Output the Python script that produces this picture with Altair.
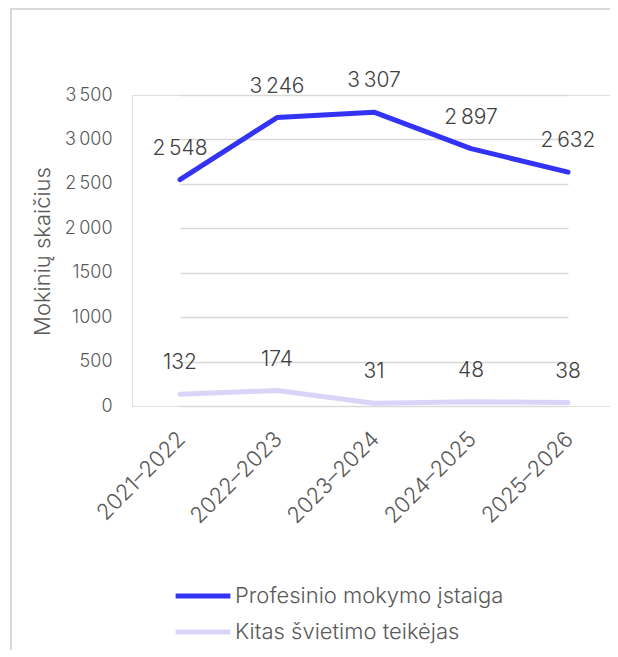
import altair as alt
import pandas as pd

years = ["2021–2022", "2022–2023", "2023–2024", "2024–2025", "2025–2026"]
series_names = ["Profesinio mokymo įstaiga", "Kitas švietimo teikėjas"]
profesinio = [2548, 3246, 3307, 2897, 2632]
kitas = [132, 174, 31, 48, 38]
colors = ["#3333F5", "#D9D5F8"]
y_ticks = [0, 500, 1000, 1500, 2000, 2500, 3000, 3500]

rows = []
for name, vals in zip(series_names, [profesinio, kitas]):
    for yr, v in zip(years, vals):
        rows.append({"Metai": yr, "Serija": name, "Reikšmė": v})
df = pd.DataFrame(rows)

FONT = "Inter"
W, H = 478, 311
PAD = {"left": 124, "top": 87, "right": 0, "bottom": 244}

x_enc = alt.X(
    "Metai:N", sort=years,
    scale=alt.Scale(type="point", range=[48, 436], padding=0),
    axis=alt.Axis(title=None, labelAngle=-45, labelFontSize=22, labelColor="#595959",
                  labelFont=FONT, labelFontWeight=300, ticks=False, domain=False, grid=False,
                  labelPadding=22, labelOffset=-6),
)
y_enc = alt.Y(
    "Reikšmė:Q",
    scale=alt.Scale(domain=[0, 3500], nice=False),
    axis=alt.Axis(
        title="Mokinių skaičius", values=y_ticks, format="d",
        labelExpr="datum.value >= 2000 ? replace(format(datum.value, ','), ',', '\u2009') : format(datum.value, 'd')",
        labelFontSize=18, labelColor="#595959", labelFont=FONT, labelFontWeight=300, labelPadding=20,
        ticks=False, domain=False, gridColor="#D9D9D9", gridWidth=1.5,
        titleFont=FONT, titleFontSize=22, titleFontWeight=300, titleColor="#595959",
        titleX=-90, titleY=156, titleAngle=-90, titleAlign="center", titleBaseline="middle",
    ),
)
color_enc = alt.Color(
    "Serija:N", sort=series_names,
    scale=alt.Scale(domain=series_names, range=colors),
    legend=alt.Legend(
        title=None, orient="none", legendX=41, legendY=486, direction="vertical",
        symbolType="stroke", symbolSize=3000, symbolStrokeWidth=5, labelFont=FONT,
        labelFontWeight=300, labelFontSize=22, labelColor="#595959", labelOffset=2,
        clipHeight=30, rowPadding=6, labelLimit=400,
    ),
)

frame_left = alt.Chart(pd.DataFrame({"a": [0]})).mark_rule(color="#D9D9D9", strokeWidth=2).encode(
    x=alt.value(-121), y=alt.value(-86), y2=alt.value(H + 244)
)
frame_top = alt.Chart(pd.DataFrame({"a": [0]})).mark_rule(color="#D9D9D9", strokeWidth=2).encode(
    y=alt.value(-86), x=alt.value(-122), x2=alt.value(W)
)

lines = alt.Chart(df).mark_line(strokeWidth=5, strokeCap="round", strokeJoin="round").encode(
    x=x_enc, y=y_enc, color=color_enc
)

labels = alt.Chart(df).transform_calculate(
    lab="datum['Reikšmė'] >= 1000 ? replace(format(datum['Reikšmė'], ','), ',', '\u2009') : format(datum['Reikšmė'], 'd')"
).mark_text(dy=-31, fontSize=21, font=FONT, fontWeight=300, color="#404040", baseline="middle").encode(
    x=alt.X("Metai:N", sort=years), y="Reikšmė:Q", text="lab:N"
)

chart = alt.layer(frame_left, frame_top, lines, labels).properties(
    width=W, height=H, padding=PAD, autosize=alt.AutoSizeParams(type="none")
).configure_view(stroke=None).configure(font=FONT)

chart.save("out.html", embed_options={"renderer": "svg", "actions": False})
